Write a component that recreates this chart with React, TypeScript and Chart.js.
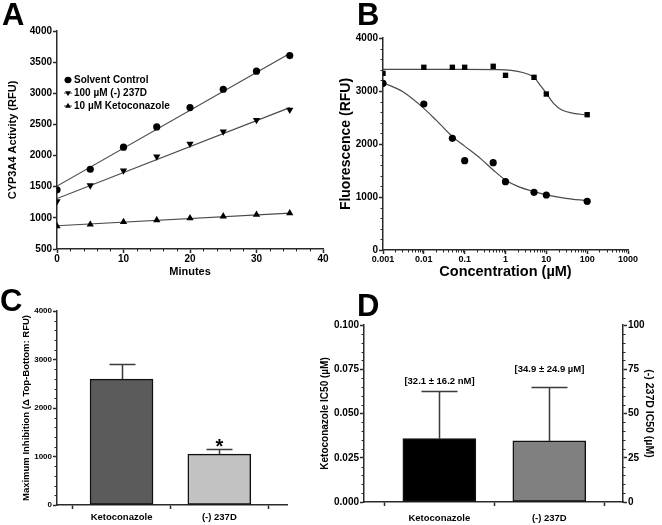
import React, { useEffect, useRef } from 'react';
import { Chart, registerables } from 'chart.js';
import { drawPoint } from 'chart.js/helpers';

Chart.register(...registerables);

const FONT = "'Liberation Sans', Arial, Helvetica, sans-serif";
const AXIS = '#2a2a2a';
const LINE = '#4a4a4a';

// ---------- Panel A data ----------
const minutes = [0, 5, 10, 15, 20, 25, 30, 35];
const solventControl = [1450, 1780, 2135, 2460, 2770, 3065, 3355, 3605];
const d237_100uM = [1265, 1520, 1760, 1985, 2190, 2385, 2570, 2735];
const keto_10uM = [865, 895, 935, 965, 995, 1025, 1050, 1075];
const fitMinutes = [0, 35];
const solventFit = [1510, 3640];
const d237Fit = [1310, 2770];
const ketoFitA = [873, 1075];
const seriesNamesA = ['Solvent Control', '100 µM (-) 237D', '10 µM Ketoconazole'];

// ---------- Panel B data ----------
const concentrations = [0.001, 0.01, 0.05, 0.1, 0.5, 1, 5, 10, 100];
const ketoFluor = [3145, 2755, 2107, 1685, 1648, 1289, 1088, 1038, 918];
const d237Fluor = [3333, 3447, 3447, 3447, 3466, 3296, 3258, 2943, 2553];
const ketoCurveX = [0.001, 0.003, 0.01, 0.02, 0.05, 0.1, 0.25, 0.5, 1, 2, 5, 10, 30, 100];
const ketoCurveY = [3157, 2990, 2673, 2450, 2140, 1960, 1720, 1510, 1320, 1200, 1100, 1040, 975, 931];
const d237CurveX = [0.001, 0.1, 1, 2, 3.6, 5, 7, 10, 15, 24, 46, 100];
const d237CurveY = [3409, 3409, 3400, 3370, 3315, 3258, 3113, 2956, 2767, 2641, 2579, 2547];
const concTickValues = [0.001, 0.01, 0.1, 1, 10, 100, 1000];
const concTickLabels = ['0.001', '0.01', '0.1', '1', '10', '100', '1000'];
const seriesNamesB = ['Ketoconazole', '(-) 237D'];

// ---------- Panel C data ----------
const drugs = ['Ketoconazole', '(-) 237D'];
const maxInhibition = [2595, 1048];
const maxInhibitionErr = [315, 97];

// ---------- Panel D data ----------
const ic50Values = [0.0358, 34.5]; // ketoconazole (left axis, µM), 237D (right axis, µM)
const ic50Err = [0.027, 30.7];
const ic50Labels = ['[32.1 ± 16.2 nM]', '[34.9 ± 24.9 µM]'];

const toXY = (xs: number[], ys: number[]) => xs.map((x, i) => ({ x, y: ys[i] }));
const bold = (size: number) => ({ family: FONT, weight: 'bold' as const, size });
const plain = (v: any) => String(v);

// ---------- plugins ----------
const minorTicks = {
  id: 'minorTicks',
  afterDraw(chart: any, _a: any, opts: any) {
    const cfg = opts && opts.axes;
    if (!cfg) return;
    const ctx = chart.ctx;
    ctx.save();
    ctx.strokeStyle = AXIS;
    ctx.lineWidth = 1;
    Object.keys(cfg).forEach((id) => {
      const s = chart.scales[id];
      const div = cfg[id];
      if (!s) return;
      const vals: number[] = [];
      if (div === 'log') {
        const e0 = Math.round(Math.log10(s.min));
        const e1 = Math.round(Math.log10(s.max));
        for (let e = e0; e < e1; e++) for (let m = 2; m < 10; m++) vals.push(m * Math.pow(10, e));
      } else {
        const t = s.ticks.map((k: any) => k.value);
        for (let i = 0; i < t.length - 1; i++) {
          const step = (t[i + 1] - t[i]) / div;
          for (let j = 1; j < div; j++) vals.push(t[i] + j * step);
        }
      }
      const len = opts.length || 2.5;
      ctx.beginPath();
      vals.forEach((v) => {
        const p = Math.round(s.getPixelForValue(v)) + 0.5;
        if (s.isHorizontal()) {
          ctx.moveTo(p, s.top);
          ctx.lineTo(p, s.top + len);
        } else if (s.position === 'left') {
          ctx.moveTo(s.right, p);
          ctx.lineTo(s.right - len, p);
        } else {
          ctx.moveTo(s.left, p);
          ctx.lineTo(s.left + len, p);
        }
      });
      ctx.stroke();
    });
    ctx.restore();
  },
};

const insideLegend = {
  id: 'insideLegend',
  afterDraw(chart: any, _a: any, opts: any) {
    if (!opts || !opts.items) return;
    const ctx = chart.ctx;
    ctx.save();
    opts.items.forEach((it: any, i: number) => {
      const y = opts.y + i * opts.dy;
      ctx.strokeStyle = LINE;
      ctx.lineWidth = 1;
      ctx.beginPath();
      ctx.moveTo(opts.x - opts.lineLen / 2, y);
      ctx.lineTo(opts.x + opts.lineLen / 2, y);
      ctx.stroke();
      ctx.fillStyle = '#000';
      ctx.strokeStyle = '#000';
      drawPoint(ctx, { pointStyle: it.pointStyle, rotation: it.rotation || 0, radius: opts.radius, borderWidth: 0 } as any, opts.x, y);
      ctx.fillStyle = '#000';
      ctx.font = opts.font;
      ctx.textAlign = 'left';
      ctx.textBaseline = 'middle';
      ctx.fillText(it.label, opts.x + opts.textGap, y);
    });
    ctx.restore();
  },
};

const errorBars = {
  id: 'errorBars',
  afterDatasetsDraw(chart: any, _a: any, opts: any) {
    if (!opts || !opts.items) return;
    const ctx = chart.ctx;
    ctx.save();
    opts.items.forEach((it: any) => {
      const meta = chart.getDatasetMeta(it.dataset);
      const el = meta.data[it.index];
      const s = chart.scales[meta.yAxisID];
      const x = Math.round(el.x) + 0.5;
      const yErr = Math.round(s.getPixelForValue(it.top)) + 0.5;
      ctx.strokeStyle = '#3a3a3a';
      ctx.lineWidth = 1.5;
      ctx.beginPath();
      ctx.moveTo(x, el.y);
      ctx.lineTo(x, yErr);
      ctx.moveTo(x - it.capLeft, yErr);
      ctx.lineTo(x + it.capRight, yErr);
      ctx.stroke();
      if (it.label) {
        ctx.fillStyle = '#000';
        ctx.font = it.font;
        ctx.textAlign = 'center';
        ctx.textBaseline = 'alphabetic';
        ctx.fillText(it.label, x, yErr + it.labelDy);
      }
    });
    ctx.restore();
  },
};

const axisCommon = (extra: any = {}) => ({
  border: { display: true, color: AXIS, width: 1.5 },
  grid: { display: true, drawOnChartArea: false, drawTicks: true, tickLength: 4, color: AXIS, tickWidth: 1.5 },
  ...extra,
});

const fixSize = (prop: 'width' | 'height', v: number) => (s: any) => {
  s[prop] = v;
};

// ---------- configs ----------
const configA: any = {
  type: 'scatter',
  data: {
    datasets: [
      { data: toXY(minutes, solventControl), pointStyle: 'circle', pointRadius: 3.6, backgroundColor: '#000', borderWidth: 0 },
      { data: toXY(minutes, d237_100uM), pointStyle: 'triangle', rotation: 180, pointRadius: 4.2, backgroundColor: '#000', borderWidth: 0 },
      { data: toXY(minutes, keto_10uM), pointStyle: 'triangle', pointRadius: 4.2, backgroundColor: '#000', borderWidth: 0 },
      { data: toXY(fitMinutes, solventFit), showLine: true, pointRadius: 0, borderColor: LINE, borderWidth: 1.2 },
      { data: toXY(fitMinutes, d237Fit), showLine: true, pointRadius: 0, borderColor: LINE, borderWidth: 1.2 },
      { data: toXY(fitMinutes, ketoFitA), showLine: true, pointRadius: 0, borderColor: LINE, borderWidth: 1.2 },
    ],
  },
  options: {
    animation: false,
    responsive: false,
    layout: { padding: { left: 0, top: 31, right: 8, bottom: 0 } },
    plugins: {
      legend: { display: false },
      tooltip: { enabled: false },
      minorTicks: { axes: { x: 5 }, length: 2.5 },
      insideLegend: {
        x: 68, y: 80, dy: 13, lineLen: 8, radius: 3.3, textGap: 6, font: `bold 10px ${FONT}`,
        items: [
          { label: seriesNamesA[0], pointStyle: 'circle' },
          { label: seriesNamesA[1], pointStyle: 'triangle', rotation: 180 },
          { label: seriesNamesA[2], pointStyle: 'triangle' },
        ],
      },
    },
    scales: {
      x: axisCommon({
        type: 'linear', min: 0, max: 40,
        afterFit: fixSize('height', 36),
        ticks: { stepSize: 10, font: bold(10), color: '#000', padding: 0, maxRotation: 0, callback: plain },
        title: { display: true, text: 'Minutes', font: bold(11), color: '#000', padding: { top: 0, bottom: 6.4 } },
      }),
      y: axisCommon({
        type: 'linear', min: 500, max: 4000,
        afterFit: fixSize('width', 57),
        ticks: { stepSize: 500, font: bold(10), color: '#000', padding: 1, callback: plain },
        title: { display: true, text: 'CYP3A4 Activity (RFU)', font: bold(11), color: '#000', padding: { top: 6.4, bottom: 0 } },
      }),
    },
  },
  plugins: [minorTicks, insideLegend],
};

const configB: any = {
  type: 'scatter',
  data: {
    datasets: [
      { data: toXY(concentrations, ketoFluor), pointStyle: 'circle', pointRadius: 3.6, backgroundColor: '#000', borderWidth: 0 },
      { data: toXY(concentrations, d237Fluor), pointStyle: 'rect', pointRadius: 3.8, backgroundColor: '#000', borderWidth: 0 },
      { data: toXY(ketoCurveX, ketoCurveY), showLine: true, pointRadius: 0, borderColor: LINE, borderWidth: 1.2, cubicInterpolationMode: 'monotone' },
      { data: toXY(d237CurveX, d237CurveY), showLine: true, pointRadius: 0, borderColor: LINE, borderWidth: 1.2, cubicInterpolationMode: 'monotone' },
    ],
  },
  options: {
    animation: false,
    responsive: false,
    layout: { padding: { left: 0, top: 38, right: 34, bottom: 0 } },
    plugins: {
      legend: { display: false },
      tooltip: { enabled: false },
      minorTicks: { axes: { x: 'log', y: 5 }, length: 2.5 },
      insideLegend: {
        x: 397, y: 229.3, dy: 8.4, lineLen: 6, radius: 2.6, textGap: 4.5, font: `bold 7px ${FONT}`,
        items: [
          { label: seriesNamesB[0], pointStyle: 'circle' },
          { label: seriesNamesB[1], pointStyle: 'rect' },
        ],
      },
    },
    scales: {
      x: axisCommon({
        type: 'logarithmic', min: 0.001, max: 1000,
        afterFit: fixSize('height', 35),
        afterBuildTicks: (s: any) => { s.ticks = concTickValues.map((v) => ({ value: v, major: true })); },
        ticks: {
          font: bold(9), color: '#000', padding: 0, maxRotation: 0, autoSkip: false,
          callback: (v: any) => { const i = concTickValues.findIndex((c) => Math.abs(c - v) / c < 1e-6); return i >= 0 ? concTickLabels[i] : ''; },
        },
        title: { display: true, text: 'Concentration (µM)', font: bold(14.5), color: '#000', padding: { top: 0, bottom: 4.3 } },
      }),
      y: axisCommon({
        type: 'linear', min: 0, max: 4000,
        afterFit: fixSize('width', 52),
        ticks: { stepSize: 1000, font: bold(10), color: '#000', padding: 1, callback: plain },
        title: { display: true, text: 'Fluorescence (RFU)', font: bold(14), color: '#000', padding: { top: 6.6, bottom: 0 } },
      }),
    },
  },
  plugins: [minorTicks, insideLegend],
};

const configC: any = {
  type: 'bar',
  data: {
    datasets: [
      {
        data: toXY([0, 1], maxInhibition),
        backgroundColor: ['#5b5b5b', '#c2c2c2'],
        borderColor: '#111',
        borderWidth: 1.5,
        borderSkipped: false,
        barThickness: 63,
        grouped: false,
      },
    ],
  },
  options: {
    animation: false,
    responsive: false,
    layout: { padding: { left: 0, top: 49, right: 44, bottom: 0 } },
    plugins: {
      legend: { display: false },
      tooltip: { enabled: false },
      minorTicks: { axes: { y: 5 }, length: 2.5 },
      errorBars: {
        items: [
          { dataset: 0, index: 0, top: maxInhibition[0] + maxInhibitionErr[0], capLeft: 13, capRight: 13 },
          { dataset: 0, index: 1, top: maxInhibition[1] + maxInhibitionErr[1], capLeft: 13, capRight: 13, label: '*', font: `bold 20px ${FONT}`, labelDy: 3 },
        ],
      },
    },
    scales: {
      x: axisCommon({
        type: 'linear', min: -0.66, max: 1.692, offset: false,
        afterFit: fixSize('height', 20),
        afterBuildTicks: (s: any) => { s.ticks = [{ value: 0 }, { value: 1 }]; },
        ticks: { font: bold(9.5), color: '#000', padding: 2.5, maxRotation: 0, autoSkip: false, callback: (v: any) => drugs[Math.round(v)] ?? '' },
      }),
      y: axisCommon({
        type: 'linear', min: 0, max: 4000,
        afterFit: fixSize('width', 57),
        ticks: { stepSize: 1000, font: bold(8), color: '#000', padding: 1, callback: plain },
        title: { display: true, text: 'Maximum Inhibition (Δ Top-Bottom: RFU)', font: bold(9.5), color: '#000', padding: { top: 20.3, bottom: 0 } },
      }),
    },
  },
  plugins: [minorTicks, errorBars],
};

const configD: any = {
  type: 'bar',
  data: {
    datasets: [
      {
        data: [{ x: 0, y: ic50Values[0] }],
        yAxisID: 'y',
        backgroundColor: '#000',
        borderColor: '#111',
        borderWidth: 1.5,
        borderSkipped: false,
        barThickness: 73,
        grouped: false,
      },
      {
        data: [{ x: 1, y: ic50Values[1] }],
        yAxisID: 'y1',
        backgroundColor: '#808080',
        borderColor: '#111',
        borderWidth: 1.5,
        borderSkipped: false,
        barThickness: 73,
        grouped: false,
      },
    ],
  },
  options: {
    animation: false,
    responsive: false,
    layout: { padding: { left: 0, top: 63, right: 0, bottom: 0 } },
    plugins: {
      legend: { display: false },
      tooltip: { enabled: false },
      minorTicks: { axes: { y: 5, y1: 5 }, length: 2.5 },
      errorBars: {
        items: [
          { dataset: 0, index: 0, top: ic50Values[0] + ic50Err[0], capLeft: 18, capRight: 18, label: ic50Labels[0], font: `bold 9.5px ${FONT}`, labelDy: -8 },
          { dataset: 1, index: 0, top: ic50Values[1] + ic50Err[1], capLeft: 18, capRight: 18, label: ic50Labels[1], font: `bold 9.5px ${FONT}`, labelDy: -16 },
        ],
      },
    },
    scales: {
      x: axisCommon({
        type: 'linear', min: -0.685, max: 1.67, offset: false,
        afterFit: fixSize('height', 23),
        afterBuildTicks: (s: any) => { s.ticks = [{ value: 0 }, { value: 1 }]; },
        ticks: { font: bold(9.5), color: '#000', padding: 7, maxRotation: 0, autoSkip: false, callback: (v: any) => drugs[Math.round(v)] ?? '' },
      }),
      y: axisCommon({
        type: 'linear', position: 'left', min: 0, max: 0.1,
        afterFit: fixSize('width', 53),
        ticks: { stepSize: 0.025, font: bold(10), color: '#000', padding: 1, callback: (v: any) => Number(v).toFixed(3) },
        title: { display: true, text: 'Ketoconazole IC50 (µM)', font: bold(10), color: '#000', padding: { top: 8, bottom: 0 } },
      }),
      y1: axisCommon({
        type: 'linear', position: 'right', min: 0, max: 100,
        afterFit: fixSize('width', 39),
        ticks: { stepSize: 25, font: bold(10), color: '#000', padding: 1, callback: plain },
        title: { display: true, text: '(-) 237D IC50 (µM)', font: bold(10.5), color: '#000', padding: { top: 6.7, bottom: 0 } },
      }),
    },
  },
  plugins: [minorTicks, errorBars],
};

function Panel({ config, left, top, width, height }: any) {
  const ref = useRef<HTMLCanvasElement>(null);
  useEffect(() => {
    if (!ref.current) return;
    const chart = new Chart(ref.current, config);
    return () => chart.destroy();
  }, [config]);
  return (
    <div style={{ position: 'absolute', left, top, width, height }}>
      <canvas ref={ref} width={width} height={height} style={{ width, height, display: 'block' }} />
    </div>
  );
}

const letterStyle = (left: number, top: number): React.CSSProperties => ({
  position: 'absolute',
  left,
  top,
  fontFamily: FONT,
  fontWeight: 'bold',
  fontSize: 31,
  lineHeight: '31px',
  color: '#000',
});

export default function App() {
  Chart.defaults.font.family = FONT;
  return (
    <div style={{ position: 'fixed', left: 0, top: 0, width: 662, height: 525, background: '#fff', overflow: 'hidden' }}>
      <Panel config={configA} left={0} top={0} width={331} height={285} />
      <Panel config={configB} left={331} top={0} width={331} height={285} />
      <Panel config={configC} left={0} top={262} width={331} height={263} />
      <Panel config={configD} left={311} top={262} width={351} height={263} />
      <div style={letterStyle(2, -1)}>A</div>
      <div style={letterStyle(357, -1)}>B</div>
      <div style={letterStyle(0, 285)}>C</div>
      <div style={letterStyle(357, 290)}>D</div>
    </div>
  );
}
